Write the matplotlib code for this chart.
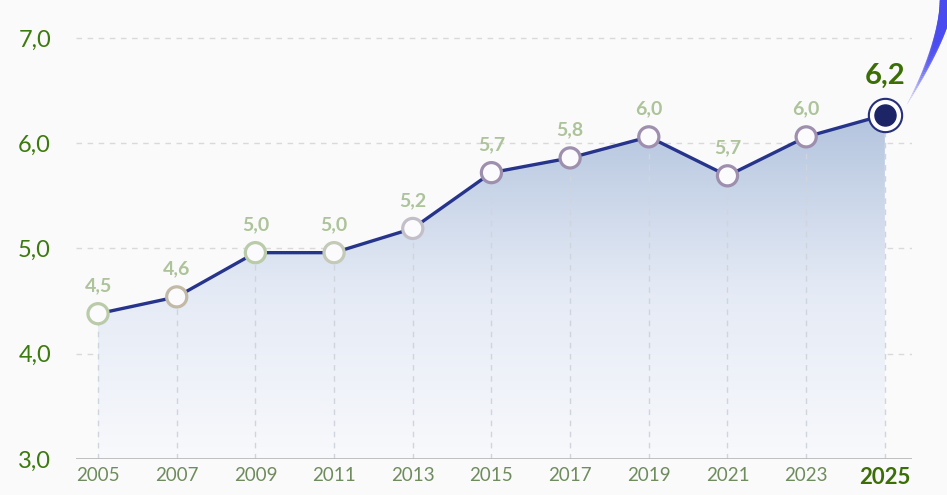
import numpy as np
import matplotlib.pyplot as plt
from matplotlib.colors import LinearSegmentedColormap

# data
years = [2005, 2007, 2009, 2011, 2013, 2015, 2017, 2019, 2021, 2023, 2025]
values = [4.38, 4.54, 4.96, 4.96, 5.19, 5.72, 5.86, 6.06, 5.69, 6.06, 6.27]
labels = ["4,5", "4,6", "5,0", "5,0", "5,2", "5,7", "5,8", "6,0", "5,7", "6,0", "6,2"]
yticks = [3.0, 4.0, 5.0, 6.0, 7.0]
ytick_labels = ["3,0", "4,0", "5,0", "6,0", "7,0"]

# marker rim colours drift from green to lilac
rims = ["#b9cba8", "#c2b9a6", "#b9cba8", "#c4c9b8", "#c3bfc8", "#9e8fae",
        "#9e8fae", "#9e8fae", "#9e8fae", "#9e8fae"]

plt.rcParams['font.family'] = ['Lato', 'DejaVu Sans']

fig = plt.figure(figsize=(9.47, 4.95), dpi=100)
fig.patch.set_facecolor("#fafafa")
ax = fig.add_axes([76/947, 36/495, (912-76)/947, (495-36)/495])
ax.set_facecolor("none")

ax.set_xlim(2004.44, 2025.69)
ax.set_ylim(3.0, 7.36)

# gradient fill below the line
grad = LinearSegmentedColormap.from_list("g", ["#f8f9fc", "#e4eaf5", "#b3c4de"])
ys = np.linspace(0, 1, 256).reshape(-1, 1)
img = ax.imshow(ys, cmap=grad, aspect="auto", origin="lower",
                extent=[years[0], years[-1], 3.0, max(values)], zorder=1)
poly = ax.fill_between(years, values, 3.0, color="none", zorder=1)
img.set_clip_path(poly.get_paths()[0], transform=ax.transData)

# horizontal dashed grid
for t in yticks[1:]:
    ax.axhline(t, color="#d9d9d9", lw=1, ls=(0, (4, 4)), zorder=0.5)
# vertical dashed lines only under the curve
ax.vlines(years, 3.0, values, color="#d0d4dc", lw=1, ls=(0, (4, 4)), zorder=2)
ax.axhline(3.0, color="#b5b5b5", lw=1.2, zorder=3)

# line
ax.plot(years, values, color="#27348b", lw=2.4, zorder=4, solid_capstyle="round")

# ordinary points
ax.scatter(years[:-1], values[:-1], s=210, facecolor="#fbfbfd",
           edgecolor=rims, linewidth=2.3, zorder=5)
# highlighted last point
ax.scatter(years[-1:], values[-1:], s=600, facecolor="#26307a", zorder=5)
ax.scatter(years[-1:], values[-1:], s=460, facecolor="white", zorder=6)
ax.scatter(years[-1:], values[-1:], s=230, facecolor="#1d2566", zorder=7)

# value labels
for x, v, lab in zip(years[:-1], values[:-1], labels[:-1]):
    ax.annotate(lab, (x, v), xytext=(0, 14), textcoords="offset points",
                ha="center", va="bottom", fontsize=14, fontweight="bold",
                color="#adc39a", zorder=8)
ax.annotate(labels[-1], (years[-1], values[-1]), xytext=(0, 19),
            textcoords="offset points", ha="center", va="bottom",
            fontsize=21, fontweight="bold", color="#3b6f06", zorder=8)

# axes text
ax.set_yticks(yticks)
ax.set_yticklabels(ytick_labels, fontsize=17, color="#3b7a0c")
ax.set_xticks(years)
ax.set_xticklabels([str(y) for y in years], fontsize=13.5, color="#6f8c5e")
xl = ax.get_xticklabels()[-1]
xl.set_fontweight("bold")
xl.set_color("#3b6f06")
xl.set_fontsize(16)
ax.tick_params(axis="both", length=0)
ax.tick_params(axis="y", pad=18)
ax.tick_params(axis="x", pad=6)
for s in ax.spines.values():
    s.set_visible(False)

# decorative brush stroke in the top right corner
t = np.linspace(0, 1, 50)
bx = 1.0 - 0.042 * t**1.5
by = 1.0 - 0.21 * t
for i in range(len(t) - 1):
    fig.add_artist(plt.Line2D(bx[i:i+2], by[i:i+2], transform=fig.transFigure,
                              color="#4a4cf0", lw=10 * (1 - t[i])**1.2 + 0.5,
                              alpha=0.9 * (1 - t[i]) + 0.1,
                              solid_capstyle="round"))

fig.savefig("out.png", dpi=100, facecolor=fig.get_facecolor())
